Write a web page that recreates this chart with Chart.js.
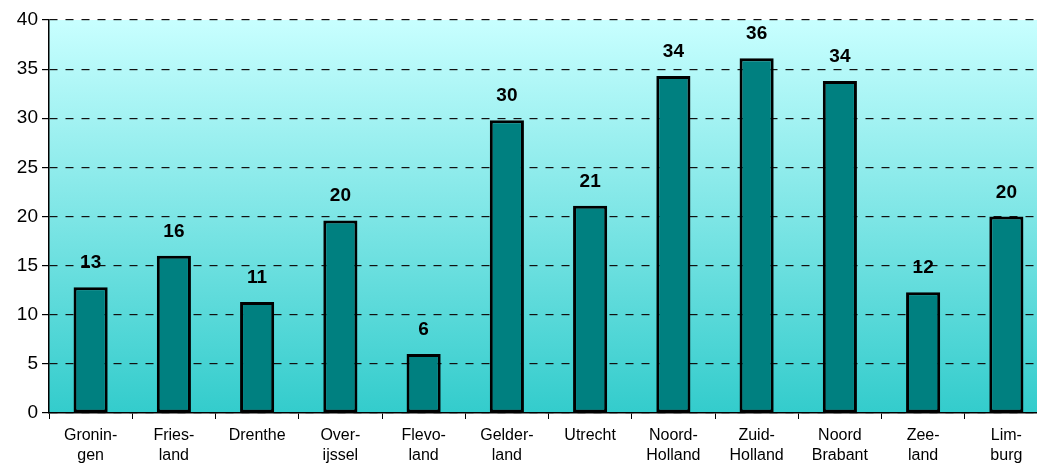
<!DOCTYPE html>
<html>
<head>
<meta charset="utf-8">
<script src="https://cdn.jsdelivr.net/npm/chart.js@4/dist/chart.umd.min.js"></script>
<style>
  html, body { margin: 0; padding: 0; background: #fff; }
  #wrap { width: 1037px; height: 468px; overflow: hidden; }
</style>
</head>
<body>
<div id="wrap"><canvas id="chart" width="1049" height="468"></canvas></div>
<script>
const provinces = [
  ['Gronin-', 'gen'], ['Fries-', 'land'], 'Drenthe', ['Over-', 'ijssel'],
  ['Flevo-', 'land'], ['Gelder-', 'land'], 'Utrecht', ['Noord-', 'Holland'],
  ['Zuid-', 'Holland'], ['Noord', 'Brabant'], ['Zee-', 'land'], ['Lim-', 'burg']
];
const values = [12.8, 16.0, 11.3, 19.6, 6.0, 29.8, 21.1, 34.3, 36.1, 33.8, 12.3, 20.0];
const yTicks = [0, 5, 10, 15, 20, 25, 30, 35, 40];

// gradient fill behind the plot area
const bgPlugin = {
  id: 'bg',
  beforeDraw(chart) {
    const { ctx, chartArea: a } = chart;
    const g = ctx.createLinearGradient(0, a.top, 0, a.bottom);
    g.addColorStop(0, '#c8ffff');
    g.addColorStop(1, '#33cccc');
    ctx.save();
    ctx.fillStyle = g;
    ctx.fillRect(a.left, a.top, a.right - a.left, a.bottom - a.top);
    ctx.restore();
  }
};

// rounded value above each bar
const labelPlugin = {
  id: 'labels',
  afterDatasetsDraw(chart) {
    const ctx = chart.ctx;
    const meta = chart.getDatasetMeta(0);
    ctx.save();
    ctx.font = 'bold 19px "Liberation Sans", Arial, sans-serif';
    ctx.fillStyle = '#000';
    ctx.textAlign = 'center';
    ctx.textBaseline = 'alphabetic';
    meta.data.forEach((bar, i) => {
      ctx.fillText(String(Math.round(values[i])), bar.x, bar.y - 19);
    });
    ctx.restore();
  }
};

new Chart(document.getElementById('chart').getContext('2d'), {
  type: 'bar',
  data: {
    labels: provinces,
    datasets: [{
      data: values,
      backgroundColor: '#008080',
      borderColor: '#000',
      borderWidth: 3,
      borderSkipped: false,
      categoryPercentage: 1,
      barPercentage: 0.41
    }]
  },
  options: {
    responsive: false,
    animation: false,
    layout: { padding: { top: 20, right: 1, left: 0, bottom: 0 } },
    plugins: { legend: { display: false }, tooltip: { enabled: false } },
    scales: {
      x: {
        afterFit: s => { s.height = 55; },
        grid: {
          offset: true, drawOnChartArea: false, drawTicks: true,
          tickLength: 6, color: '#000'
        },
        border: { display: true, color: '#000', width: 1.5 },
        ticks: {
          color: '#000', padding: 7, maxRotation: 0, autoSkip: false,
          font: { family: '"Liberation Sans", Arial, sans-serif', size: 16, lineHeight: 1.25 }
        }
      },
      y: {
        min: 0, max: 40,
        afterFit: s => { s.width = 49; },
        afterBuildTicks: s => { s.ticks = yTicks.map(v => ({ value: v })); },
        grid: {
          color: '#111', lineWidth: 1.2,
          tickLength: 7, tickBorderDash: [], tickColor: '#000'
        },
        border: { display: true, color: '#000', width: 1.5, dash: [8, 8] },
        ticks: {
          color: '#000', padding: 4,
          font: { family: '"Liberation Sans", Arial, sans-serif', size: 19 }
        }
      }
    }
  },
  plugins: [bgPlugin, labelPlugin]
});
</script>
</body>
</html>
